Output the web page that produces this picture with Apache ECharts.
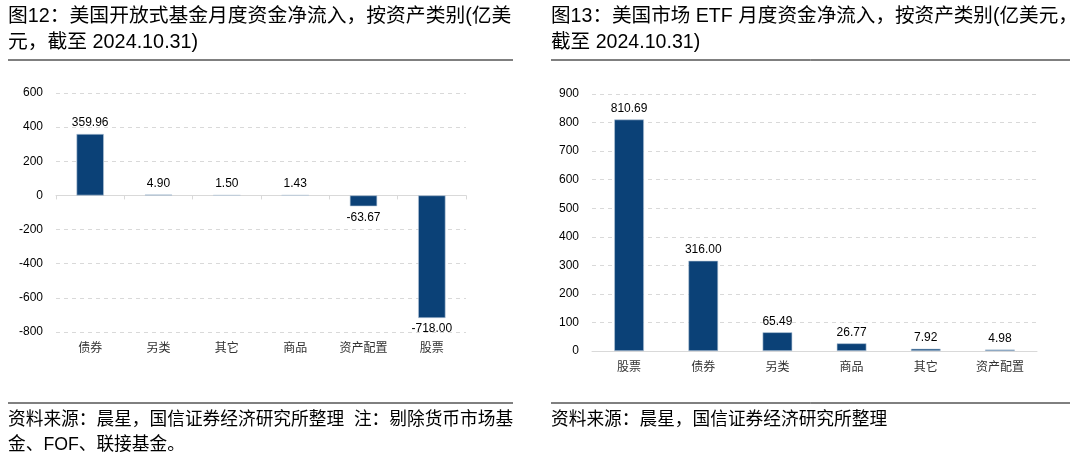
<!DOCTYPE html>
<html><head><meta charset="utf-8">
<script src="https://cdn.jsdelivr.net/npm/echarts@6/dist/echarts.min.js"></script>
<style>html,body{margin:0;padding:0;background:#fff}#c{width:1080px;height:461px}</style>
</head><body><div id="c"></div>
<script>
const leftCategories = ['债券','另类','其它','商品','资产配置','股票'];
const leftValues = [359.96, 4.90, 1.50, 1.43, -63.67, -718.00];
const rightCategories = ['股票','债券','另类','商品','其它','资产配置'];
const rightValues = [810.69, 316.00, 65.49, 26.77, 7.92, 4.98];
const leftTitle = ['图12：美国开放式基金月度资金净流入，按资产类别(亿美', '元，截至 2024.10.31)'];
const rightTitle = ['图13：美国市场 ETF 月度资金净流入，按资产类别(亿美元，', '截至 2024.10.31)'];
const leftNote = ['资料来源：晨星，国信证券经济研究所整理  注：剔除货币市场基', '金、FOF、联接基金。'];
const rightNote = ['资料来源：晨星，国信证券经济研究所整理'];

const FONT = '"Liberation Sans", Arial, "Noto Sans CJK SC", sans-serif';
const CAT_FONT = '"Noto Sans CJK SC", sans-serif';
const BAR = '#0b4177';
const GRID_LINE = '#d9d9d9';

const chart = echarts.init(document.getElementById('c'), null, {renderer: 'canvas'});

function textEl(x, y, str, size) {
  return {type: 'text', x: x, y: y, style: {text: str, fontSize: size, fontFamily: FONT, fill: '#000', textVerticalAlign: 'middle'}};
}
const graphics = [];
leftTitle.forEach((t, i) => graphics.push(textEl(8, 17 + i * 26, t, 19.8)));
rightTitle.forEach((t, i) => graphics.push(textEl(551, 17 + i * 26, t, 19.6)));
leftNote.forEach((t, i) => graphics.push(textEl(8, 420 + i * 25, t, 17.7)));
rightNote.forEach((t, i) => graphics.push(textEl(551, 420 + i * 25, t, 17.7)));
[[8, 60, 513], [551, 60, 1070], [8, 403, 513], [551, 403, 1070]].forEach(([x1, y, x2]) => {
  graphics.push({type: 'line', shape: {x1: x1, y1: y, x2: x2, y2: y}, style: {stroke: '#000', lineWidth: 1}});
});

const fmt = p => p.value.toFixed(2);
const labelBase = {show: true, distance: 5, fontSize: 12, fontFamily: FONT, color: '#000', formatter: fmt};

chart.setOption({
  animation: false,
  graphic: graphics,
  grid: [
    {left: 56, right: 614, top: 93, height: 239},
    {left: 592, right: 43, top: 94, height: 257}
  ],
  xAxis: [
    {type: 'category', gridIndex: 0, data: leftCategories, position: 'bottom',
      axisLine: {show: false, onZero: false}, axisTick: {show: false},
      axisLabel: {margin: 9, fontSize: 12, fontFamily: CAT_FONT, color: '#333'}},
    {type: 'category', gridIndex: 0, data: leftCategories, position: 'bottom',
      axisLine: {show: true, onZero: true, lineStyle: {color: GRID_LINE}},
      axisTick: {show: true, length: 4, lineStyle: {color: GRID_LINE}}, axisLabel: {show: false}},
    {type: 'category', gridIndex: 1, data: rightCategories,
      axisLine: {show: true, lineStyle: {color: GRID_LINE}}, axisTick: {show: false},
      axisLabel: {margin: 9, fontSize: 12, fontFamily: CAT_FONT, color: '#333'}}
  ],
  yAxis: [
    {type: 'value', gridIndex: 0, min: -800, max: 600, interval: 200,
      axisLine: {show: false}, axisTick: {show: false},
      axisLabel: {margin: 13, fontSize: 12, fontFamily: FONT, color: '#000'},
      splitLine: {lineStyle: {color: GRID_LINE, type: [4, 4]}}},
    {type: 'value', gridIndex: 1, min: 0, max: 900, interval: 100,
      axisLine: {show: false}, axisTick: {show: false},
      axisLabel: {margin: 13, fontSize: 12, fontFamily: FONT, color: '#000'},
      splitLine: {lineStyle: {color: GRID_LINE, type: [4, 4]}}}
  ],
  series: [
    {type: 'bar', xAxisIndex: 0, yAxisIndex: 0, barWidth: '40%',
      data: leftValues.map(v => ({value: v, label: {position: v < 0 ? 'bottom' : 'top'}})),
      itemStyle: {color: BAR, borderColor: '#b9c9da', borderWidth: 0.6},
      label: Object.assign({}, labelBase, {position: 'top'})},
    {type: 'bar', xAxisIndex: 2, yAxisIndex: 1, data: rightValues, barWidth: '40%',
      itemStyle: {color: BAR, borderColor: '#b9c9da', borderWidth: 0.6},
      label: Object.assign({}, labelBase, {position: 'top'})}
  ]
});
</script></body></html>
